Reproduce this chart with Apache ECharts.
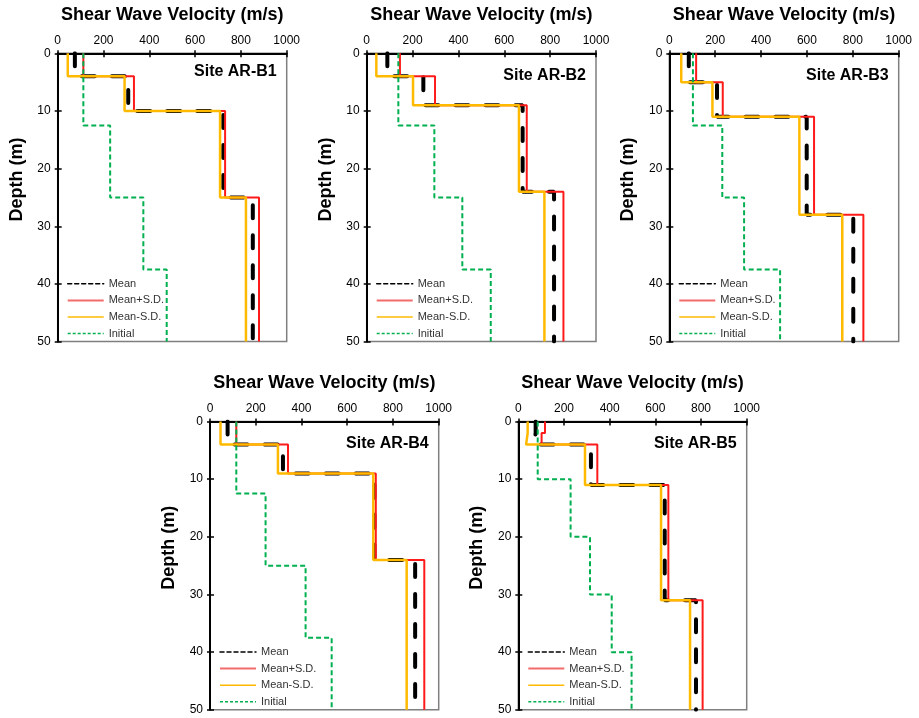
<!DOCTYPE html>
<html><head><meta charset="utf-8">
<script src="https://cdn.jsdelivr.net/npm/echarts@6/dist/echarts.min.js"></script>
<style>html,body{margin:0;padding:0;background:#fff}#c{width:919px;height:718px}</style>
</head><body><div id="c"></div>
<script>
// ---- data ----
const sites = ['Site AR-B1', 'Site AR-B2', 'Site AR-B3', 'Site AR-B4', 'Site AR-B5'];
const layerBottoms = [
  [4, 10, 25, 50],
  [4, 9, 24, 50],
  [5, 11, 28, 50],
  [4, 9, 24, 50],
  [2, 4, 11, 31, 50]
];
const meanVs = [
  [75, 308, 723, 852],
  [90, 247, 680, 817],
  [85, 208, 599, 802],
  [77, 319, 719, 897],
  [76, 68, 318, 641, 778]
];
const plusVs = [
  [112, 333, 731, 879],
  [145, 298, 698, 858],
  [117, 233, 631, 846],
  [115, 341, 725, 937],
  [117, 102, 346, 657, 807]
];
const minusVs = [
  [44, 292, 709, 822],
  [42, 202, 664, 775],
  [52, 188, 567, 754],
  [46, 297, 714, 860],
  [41, 34, 292, 625, 752]
];
const initBottoms = [
  [12.5, 25, 37.5, 50],
  [12.5, 25, 37.5, 50],
  [12.5, 25, 37.5, 50],
  [12.5, 25, 37.5, 50],
  [10, 20, 30, 40, 50]
];
const initVs = [
  [112, 229, 374, 476],
  [138, 295, 417, 541],
  [103, 231, 326, 483],
  [115, 243, 418, 532],
  [85, 229, 314, 409, 496]
];
const seriesNames = ['Mean', 'Mean+S.D.', 'Mean-S.D.', 'Initial'];
const xTitle = 'Shear Wave Velocity (m/s)';
const yTitle = 'Depth (m)';
const xTicks = [0, 200, 400, 600, 800, 1000];
const yTicks = [0, 10, 20, 30, 40, 50];

// ---- layout / style ----
const panels = [
  {left: 57.7, top: 53.3, width: 229, titleDy: 19.4},
  {left: 366.7, top: 53.3, width: 229.3, titleDy: 23.4},
  {left: 669.3, top: 53.3, width: 229.4, titleDy: 23.4},
  {left: 210, top: 421.5, width: 228.7, titleDy: 22.6},
  {left: 518.3, top: 421.5, width: 228.4, titleDy: 23.5}
];
const PH = 288.3;
const FONT = '"Liberation Sans", Arial, sans-serif';
const colors = {mean: '#000000', plus: '#ff1a1a', minus: '#ffba00', init: '#00b050'};

function steps(vs, bottoms) {
  const pts = [];
  let top = 0;
  for (let i = 0; i < vs.length; i++) {
    pts.push([vs[i], top]);
    pts.push([vs[i], bottoms[i]]);
    top = bottoms[i];
  }
  return pts;
}

const grid = [], xAxis = [], yAxis = [], series = [], legend = [], title = [];
panels.forEach((p, i) => {
  grid.push({left: p.left, top: p.top, width: p.width, height: PH, show: true,
    borderColor: '#7f7f7f', borderWidth: 1.5, backgroundColor: 'transparent', containLabel: false});
  const xBase = {type: 'value', gridIndex: i, position: 'top', min: xTicks[0], max: xTicks[xTicks.length-1],
    interval: xTicks[1] - xTicks[0], splitLine: {show: false}};
  const yBase = {type: 'value', gridIndex: i, position: 'left', inverse: true, min: yTicks[0],
    max: yTicks[yTicks.length-1], interval: yTicks[1] - yTicks[0], splitLine: {show: false}};
  xAxis.push(Object.assign({}, xBase, {
    axisLine: {show: true, onZero: false, lineStyle: {color: '#000', width: 2}},
    axisTick: {show: true, length: 3, lineStyle: {color: '#000', width: 1.5}},
    axisLabel: {fontSize: 12, color: '#000', margin: 7, fontFamily: FONT, formatter: v => String(v)},
    name: xTitle, nameLocation: 'middle', nameGap: 29,
    nameTextStyle: {fontSize: 18, fontWeight: 'bold', color: '#000', fontFamily: FONT}
  }));
  yAxis.push(Object.assign({}, yBase, {
    axisLine: {show: true, onZero: false, lineStyle: {color: '#000', width: 2}},
    axisTick: {show: true, length: 3, lineStyle: {color: '#000', width: 1.5}},
    axisLabel: {fontSize: 12, color: '#000', margin: 7, fontFamily: FONT, formatter: v => String(v)},
    name: yTitle, nameLocation: 'middle', nameGap: 32,
    nameTextStyle: {fontSize: 18, fontWeight: 'bold', color: '#000', fontFamily: FONT, padding: [0, 0, 0, 36]}
  }));
});
// secondary axes for inward tick marks
panels.forEach((p, i) => {
  xAxis.push({type: 'value', gridIndex: i, position: 'top', min: xTicks[0], max: xTicks[xTicks.length-1],
    interval: xTicks[1] - xTicks[0], splitLine: {show: false}, axisLine: {show: false},
    axisLabel: {show: false}, axisTick: {show: true, inside: true, length: 4, lineStyle: {color: '#000', width: 1.5}}});
  yAxis.push({type: 'value', gridIndex: i, position: 'left', inverse: true, min: yTicks[0],
    max: yTicks[yTicks.length-1], interval: yTicks[1] - yTicks[0], splitLine: {show: false}, axisLine: {show: false},
    axisLabel: {show: false}, axisTick: {show: true, inside: true, length: 4, lineStyle: {color: '#000', width: 1.5}}});
});

const hiddenSym = {color: 'rgba(0,0,0,0)', borderColor: 'rgba(0,0,0,0)', borderWidth: 0, opacity: 0};
panels.forEach((p, i) => {
  const common = {type: 'line', xAxisIndex: i, yAxisIndex: i, symbol: 'none', showSymbol: false,
    animation: false, silent: true};
  series.push(Object.assign({}, common, {name: seriesNames[0], data: steps(meanVs[i], layerBottoms[i]), z: 2,
    itemStyle: {color: colors.mean}, lineStyle: {color: colors.mean, width: 4, type: [13, 17], cap: 'round'}}));
  series.push(Object.assign({}, common, {name: seriesNames[1], data: steps(plusVs[i], layerBottoms[i]), z: 3,
    itemStyle: {color: colors.plus}, lineStyle: {color: colors.plus, width: 2}}));
  series.push(Object.assign({}, common, {name: seriesNames[2], data: steps(minusVs[i], layerBottoms[i]), z: 4,
    itemStyle: {color: colors.minus}, lineStyle: {color: colors.minus, width: 2.5}}));
  series.push(Object.assign({}, common, {name: seriesNames[3], data: steps(initVs[i], initBottoms[i]), z: 5,
    itemStyle: {color: colors.init}, lineStyle: {color: colors.init, width: 2, type: [5, 3]}}));

  legend.push({
    orient: 'vertical', left: p.left + 9, top: p.top + 225, padding: 0,
    itemWidth: 36, itemHeight: 10, itemGap: 5.6, selectedMode: false,
    itemStyle: hiddenSym,
    textStyle: {fontSize: 11, color: '#333', fontFamily: FONT},
    data: [
      {name: seriesNames[0], itemStyle: hiddenSym, lineStyle: {width: 1.5, type: [4, 3], color: colors.mean}},
      {name: seriesNames[1], itemStyle: hiddenSym, lineStyle: {width: 2, color: '#f46b6b'}},
      {name: seriesNames[2], itemStyle: hiddenSym, lineStyle: {width: 1.5, color: colors.minus}},
      {name: seriesNames[3], itemStyle: hiddenSym, lineStyle: {width: 1.5, type: [3, 2], color: colors.init}}
    ]
  });
  title.push({
    text: sites[i], right: 919 - (p.left + p.width - 10), top: p.top + p.titleDy - 9, padding: 0,
    textStyle: {fontSize: 16, fontWeight: 'bold', color: '#000', fontFamily: FONT}
  });
});

const chart = echarts.init(document.getElementById('c'), null, {renderer: 'canvas'});
chart.setOption({
  animation: false,
  backgroundColor: '#fff',
  textStyle: {fontFamily: FONT},
  grid, xAxis, yAxis, series, legend, title
});
</script></body></html>
